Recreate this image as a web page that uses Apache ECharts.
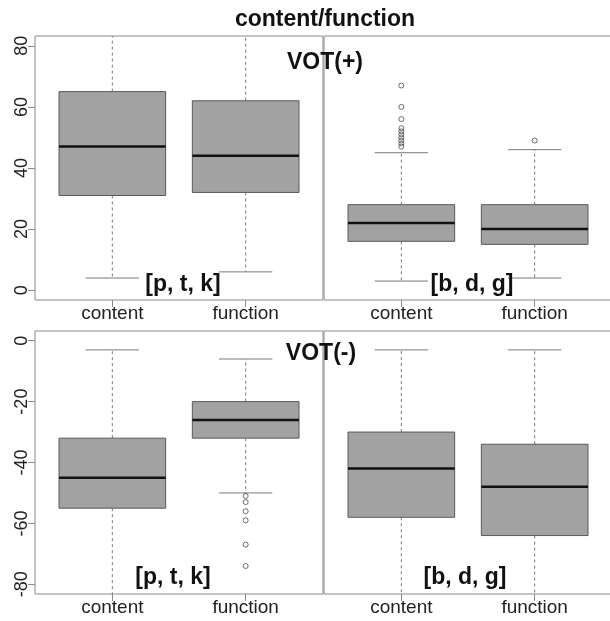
<!DOCTYPE html>
<html>
<head>
<meta charset="utf-8">
<title>content/function</title>
<script src="https://cdn.jsdelivr.net/npm/echarts@6/dist/echarts.min.js"></script>
<style>
  html, body { margin: 0; padding: 0; background: #ffffff; }
  #chart { width: 610px; height: 621px; }
</style>
</head>
<body>
<div id="chart"></div>
<script>
// Categories on every x axis
const categories = ['content', 'function'];

// Tick labels for the two rows
const yTicksPos = [0, 20, 40, 60, 80];
const yTicksNeg = [-80, -60, -40, -20, 0];

// Box summaries per category: [lower whisker, Q1, median, Q3, upper whisker]
// (whiskers beyond the plotted range run off the frame)
const votPosPTK = [[4, 31, 47, 65, 92], [6, 32, 44, 62, 90]];
const votPosBDG = [[3, 16, 22, 28, 45], [4, 15, 20, 28, 46]];
const votNegPTK = [[-92, -55, -45, -32, -3], [-50, -32, -26, -20, -6]];
const votNegBDG = [[-90, -58, -42, -30, -3], [-96, -64, -48, -34, -3]];

// Outlying observations: [category index, value]
const outPosBDG = [
  [0, 47], [0, 48], [0, 49], [0, 50], [0, 51], [0, 52], [0, 53],
  [0, 56], [0, 60], [0, 67],
  [1, 49]
];
const outNegPTK = [
  [1, -51], [1, -53], [1, -56], [1, -59], [1, -67], [1, -74]
];

const FONT = "'Liberation Sans', Arial, Helvetica, sans-serif";
const FRAME = '#8a8a8a';
const BOX_FILL = '#a2a2a2';
const BOX_EDGE = '#5a5a5a';
const WHISKER = '#7a7a7a';

const chart = echarts.init(document.getElementById('chart'), null, { renderer: 'canvas' });

const grids = [
  { left: 35, top: 36, width: 288, height: 264 },   // VOT(+) [p, t, k]
  { left: 324, top: 36, width: 288, height: 264 },  // VOT(+) [b, d, g]
  { left: 35, top: 331, width: 288, height: 263 },  // VOT(-) [p, t, k]
  { left: 324, top: 331, width: 288, height: 263 }  // VOT(-) [b, d, g]
].map(g => Object.assign({
  show: true, borderColor: FRAME, borderWidth: 1, backgroundColor: 'transparent',
  containLabel: false, outerBoundsMode: 'none'
}, g));

function xAxisFor(i) {
  return {
    type: 'value', gridIndex: i, min: 0.42, max: 2.58,
    axisLine: { show: false, onZero: false },
    axisTick: { show: true, customValues: [1, 2], length: 7, lineStyle: { color: FRAME } },
    axisLabel: {
      customValues: [1, 2],
      formatter: v => categories[Math.round(v) - 1],
      fontSize: 19, color: '#222', fontFamily: FONT, margin: 4
    },
    splitLine: { show: false }
  };
}

function yAxisFor(i, range, ticks, visible) {
  return {
    type: 'value', gridIndex: i, min: range[0], max: range[1], show: visible,
    axisLine: { show: false, onZero: false },
    axisTick: { show: true, customValues: ticks, length: 7, lineStyle: { color: FRAME } },
    axisLabel: {
      customValues: ticks, rotate: 90,
      fontSize: 18, color: '#222', fontFamily: FONT, margin: 4
    },
    splitLine: { show: false }
  };
}

const posRange = [-3.2, 83.2];
const negRange = [-83.2, 3.2];

// Box-and-whisker glyph drawn through the axis scales
function renderBox(params, api) {
  const cs = params.coordSys;
  const top = cs.y, bottom = cs.y + cs.height;
  const clampY = y => Math.max(top, Math.min(bottom, y));
  const x = api.value(0);
  const lo = api.value(1), q1 = api.value(2), med = api.value(3), q3 = api.value(4), hi = api.value(5);

  const boxL = api.coord([x - 0.4, q3]);
  const boxR = api.coord([x + 0.4, q1]);
  const capL = api.coord([x - 0.2, lo])[0];
  const capR = api.coord([x + 0.2, lo])[0];
  const cx = api.coord([x, med])[0];
  const yMed = api.coord([x, med])[1];
  const yLoRaw = api.coord([x, lo])[1];
  const yHiRaw = api.coord([x, hi])[1];
  const yLo = clampY(yLoRaw), yHi = clampY(yHiRaw);

  const children = [];
  const dash = { stroke: WHISKER, lineWidth: 1, lineDash: [3, 3] };
  // whiskers
  children.push({ type: 'line', shape: { x1: cx, y1: boxR[1], x2: cx, y2: yLo }, style: dash });
  children.push({ type: 'line', shape: { x1: cx, y1: boxL[1], x2: cx, y2: yHi }, style: dash });
  // caps (only when inside the frame)
  if (yLoRaw <= bottom && yLoRaw >= top) {
    children.push({ type: 'line', shape: { x1: capL, y1: yLo, x2: capR, y2: yLo }, style: { stroke: WHISKER, lineWidth: 1 } });
  }
  if (yHiRaw >= top && yHiRaw <= bottom) {
    children.push({ type: 'line', shape: { x1: capL, y1: yHi, x2: capR, y2: yHi }, style: { stroke: WHISKER, lineWidth: 1 } });
  }
  // box
  children.push({
    type: 'rect',
    shape: { x: boxL[0], y: boxL[1], width: boxR[0] - boxL[0], height: boxR[1] - boxL[1] },
    style: { fill: BOX_FILL, stroke: BOX_EDGE, lineWidth: 1 }
  });
  // median
  children.push({ type: 'line', shape: { x1: boxL[0], y1: yMed, x2: boxR[0], y2: yMed }, style: { stroke: '#111', lineWidth: 2.5 } });
  return { type: 'group', children: children };
}

function boxSeries(i, stats) {
  return {
    type: 'custom', xAxisIndex: i, yAxisIndex: i,
    renderItem: renderBox,
    encode: { x: 0, y: [1, 2, 3, 4, 5] },
    data: stats.map((s, k) => [k + 1].concat(s)),
    silent: true, z: 3
  };
}

function outlierSeries(i, pts) {
  return {
    type: 'scatter', xAxisIndex: i, yAxisIndex: i,
    data: pts.map(p => [p[0] + 1, p[1]]),
    symbol: 'circle', symbolSize: 5,
    itemStyle: { color: 'rgba(0,0,0,0)', borderColor: '#4a4a4a', borderWidth: 1 },
    silent: true, z: 4
  };
}

function label(text, x, y) {
  return {
    type: 'text', x: x, y: y, z: 10,
    style: {
      text: text, fill: '#111', font: 'bold 23px ' + FONT,
      align: 'center', verticalAlign: 'middle'
    }
  };
}

chart.setOption({
  animation: false,
  backgroundColor: '#ffffff',
  grid: grids,
  xAxis: [xAxisFor(0), xAxisFor(1), xAxisFor(2), xAxisFor(3)],
  yAxis: [
    yAxisFor(0, posRange, yTicksPos, true),
    yAxisFor(1, posRange, yTicksPos, false),
    yAxisFor(2, negRange, yTicksNeg, true),
    yAxisFor(3, negRange, yTicksNeg, false)
  ],
  series: [
    boxSeries(0, votPosPTK),
    boxSeries(1, votPosBDG),
    boxSeries(2, votNegPTK),
    boxSeries(3, votNegBDG),
    outlierSeries(1, outPosBDG),
    outlierSeries(2, outNegPTK)
  ],
  graphic: [
    label('content/function', 325, 20),
    label('VOT(+)', 325, 63),
    label('VOT(-)', 321, 354),
    label('[p, t, k]', 183, 285),
    label('[b, d, g]', 472, 285),
    label('[p, t, k]', 173, 578),
    label('[b, d, g]', 465, 578)
  ]
});
</script>
</body>
</html>
